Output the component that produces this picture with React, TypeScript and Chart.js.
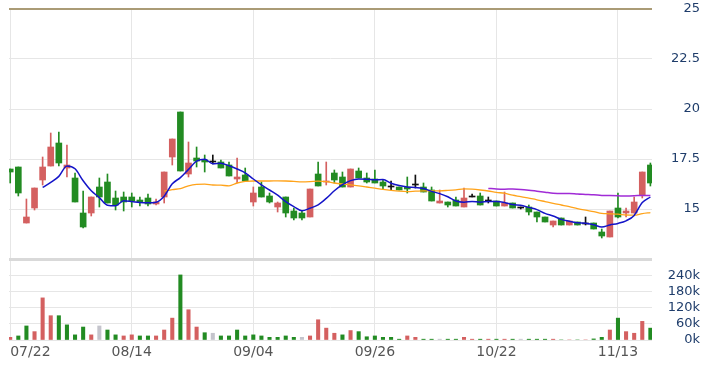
import React, { useEffect, useRef } from 'react';
import { Chart, registerables } from 'chart.js';

Chart.register(...registerables);

// ---- data ----
const DATE_LABELS = ['07/22', '08/14', '09/04', '09/26', '10/22', '11/13'];
const DATE_INDEX = [0, 15, 30, 45, 60, 75];

const OPEN = [
  17.0, 17.1, 14.3, 15.05, 16.45, 17.15, 18.3, 17.05, 16.55, 14.8,
  14.8, 16.1, 16.35, 15.55, 15.6, 15.6, 15.45, 15.55, 15.25, 15.6,
  17.6, 19.85, 16.75, 17.55, 17.45, 17.35, 17.35, 17.2, 16.5, 16.7,
  15.35, 16.1, 15.65, 15.1, 15.6, 14.9, 14.8, 14.6, 16.75, 16.35,
  16.8, 16.6, 16.1, 16.9, 16.55, 16.5, 16.35, 16.1, 16.1, 16.1,
  16.2, 16.1, 15.95, 15.3, 15.35, 15.45, 15.1, 15.6, 15.65, 15.4,
  15.4, 15.15, 15.3, 15.05, 15.1, 14.85, 14.6, 14.2, 14.55, 14.2,
  14.35, 14.25, 14.3, 13.85, 13.6, 15.05, 14.8, 14.8, 15.7, 17.2,
];
const HIGH = [
  17.0, 17.1, 15.5, 16.05, 17.6, 18.8, 18.85, 18.2, 16.8, 15.9,
  15.6, 16.55, 16.75, 15.9, 15.85, 15.8, 15.6, 15.75, 15.5, 16.85,
  18.5, 19.85, 18.35, 18.1, 17.7, 17.7, 17.45, 17.35, 17.55, 17.05,
  16.1, 16.35, 15.8, 15.35, 15.6, 15.05, 14.9, 16.0, 17.35, 17.35,
  16.95, 16.85, 17.0, 17.05, 16.8, 16.95, 16.45, 16.4, 16.1, 16.6,
  16.7, 16.3, 16.1, 15.95, 15.35, 15.6, 16.05, 15.75, 15.8, 15.6,
  15.4, 15.85, 15.3, 15.1, 15.2, 14.85, 14.6, 14.4, 14.55, 14.4,
  14.35, 14.6, 14.3, 14.0, 14.9, 15.8, 15.05, 15.6, 16.85, 17.3,
];
const LOW = [
  16.3, 15.65, 14.3, 14.95, 16.2, 17.15, 17.15, 16.6, 15.35, 14.05,
  14.65, 15.1, 15.3, 14.95, 14.9, 15.1, 15.15, 15.15, 15.2, 15.3,
  17.2, 16.9, 16.6, 17.1, 16.85, 17.25, 17.05, 16.65, 16.3, 16.4,
  15.15, 15.6, 15.3, 14.85, 14.6, 14.45, 14.45, 14.6, 16.15, 16.2,
  16.3, 16.1, 16.1, 16.55, 16.3, 16.3, 16.0, 15.95, 15.95, 15.8,
  16.05, 15.85, 15.4, 15.3, 15.1, 15.15, 15.1, 15.6, 15.2, 15.3,
  15.15, 15.15, 15.05, 15.0, 14.7, 14.35, 14.35, 14.1, 14.2, 14.2,
  14.2, 14.2, 14.0, 13.55, 13.6, 14.55, 14.6, 14.8, 15.55, 16.15,
];
const CLOSE = [
  16.85, 15.8, 14.6, 16.05, 17.1, 18.1, 17.3, 17.2, 15.35, 14.1,
  15.6, 15.6, 15.3, 15.2, 15.35, 15.4, 15.35, 15.25, 15.35, 16.85,
  18.5, 16.9, 17.3, 17.4, 17.35, 17.35, 17.05, 16.65, 16.6, 16.4,
  15.8, 15.6, 15.35, 15.3, 14.8, 14.55, 14.55, 16.0, 16.15, 16.4,
  16.45, 16.1, 17.0, 16.55, 16.35, 16.3, 16.15, 16.1, 15.95, 16.0,
  16.2, 15.85, 15.4, 15.4, 15.2, 15.15, 15.55, 15.6, 15.2, 15.4,
  15.15, 15.3, 15.05, 15.05, 14.85, 14.6, 14.35, 14.4, 14.2, 14.4,
  14.2, 14.25, 14.0, 13.65, 14.9, 14.6, 14.9, 15.35, 16.85, 16.3,
];
const PREV_CLOSE = 16.6;

const VOLUME = [
  10000, 15000, 52000, 31000, 156000, 90000, 90000, 56000, 19000, 48000,
  19000, 52000, 37000, 19000, 15000, 19000, 15000, 15000, 15000, 37000,
  81000, 241000, 112000, 48000, 27000, 25000, 15000, 15000, 37000, 15000,
  19000, 15000, 10000, 10000, 15000, 10000, 10000, 15000, 75000, 44000,
  25000, 19000, 35000, 31000, 12000, 15000, 10000, 10000, 3000, 15000,
  10000, 3000, 3000, 3000, 3000, 3000, 10000, 3000, 3000, 3000,
  3000, 3000, 3000, 3000, 3000, 3000, 3000, 3000, 0, 0,
  0, 0, 4000, 10000, 37000, 81000, 31000, 25000, 69000, 44000,
];

const MA5 = [
  null, null, null, null, 16.08, 16.33, 16.63, 17.15, 17.01, 16.41,
  15.91, 15.57, 15.19, 15.16, 15.41, 15.37, 15.32, 15.31, 15.34, 15.64,
  16.26, 16.57, 16.98, 17.39, 17.49, 17.26, 17.29, 17.16, 17.0, 16.81,
  16.5, 16.21, 15.95, 15.69, 15.37, 15.12, 14.91, 15.04, 15.21, 15.53,
  15.91, 16.22, 16.42, 16.5, 16.49, 16.46, 16.47, 16.29, 16.17, 16.1,
  16.08, 16.02, 15.88, 15.77, 15.61, 15.4, 15.34, 15.38, 15.34, 15.38,
  15.38, 15.33, 15.22, 15.19, 15.08, 14.97, 14.78, 14.65, 14.48, 14.39,
  14.31, 14.29, 14.21, 14.1, 14.2, 14.28, 14.41, 14.68, 15.32, 15.6,
];
const MA20 = [
  null, null, null, null, null, null, null, null, null, null,
  null, null, null, null, null, null, null, null, null, 15.89,
  15.97, 16.02, 16.16, 16.23, 16.24, 16.2, 16.19, 16.16, 16.3, 16.38,
  16.4, 16.4, 16.4, 16.41, 16.4, 16.38, 16.36, 16.37, 16.39, 16.37,
  16.3, 16.25, 16.21, 16.16, 16.1, 16.04, 15.98, 15.93, 15.89, 15.87,
  15.89, 15.91, 15.91, 15.91, 15.93, 15.96, 16.01, 15.99, 15.95, 15.9,
  15.83, 15.79, 15.69, 15.62, 15.54, 15.46, 15.37, 15.28, 15.2, 15.12,
  15.02, 14.94, 14.87, 14.78, 14.76, 14.74, 14.7, 14.69, 14.77, 14.82,
];
const MA60 = [
  null, null, null, null, null, null, null, null, null, null,
  null, null, null, null, null, null, null, null, null, null,
  null, null, null, null, null, null, null, null, null, null,
  null, null, null, null, null, null, null, null, null, null,
  null, null, null, null, null, null, null, null, null, null,
  null, null, null, null, null, null, null, null, null, 16.03,
  16.0, 15.99, 16.0, 15.98, 15.94, 15.89, 15.84, 15.79, 15.77, 15.78,
  15.75, 15.73, 15.71, 15.68, 15.67, 15.66, 15.65, 15.66, 15.68, 15.67,
];

const PRICE_TICKS = [12.5, 15, 17.5, 20, 22.5, 25];
const VOLUME_TICKS = [0, 60000, 120000, 180000, 240000, 300000];

// ---- styles ----
const RED = '#d46060';
const GREEN = '#228b22';
const DOJI = '#111111';
const FLAT_VOL = '#c4c4cc';
const GRID = '#e6e6e6';
const SEPARATOR = '#d9d9d9';
const TOP_LINE = '#aa9b76';
const Y_LABEL = '#1f3d6b';

const candleColor = (i: number) =>
  CLOSE[i] > OPEN[i] ? RED : CLOSE[i] < OPEN[i] ? GREEN : DOJI;
const volumeColor = (i: number) => {
  const prev = i === 0 ? PREV_CLOSE : CLOSE[i - 1];
  return CLOSE[i] > prev ? RED : CLOSE[i] < prev ? GREEN : FLAT_VOL;
};

const toPoints = (arr: (number | null)[]) =>
  arr
    .map((v, i) => (v == null ? null : { x: i, y: v }))
    .filter((p) => p !== null) as { x: number; y: number }[];

export default function App() {
  const ref = useRef<HTMLCanvasElement>(null);

  useEffect(() => {
    const idx = CLOSE.map((_, i) => i);
    const lineBase = {
      type: 'line' as const,
      yAxisID: 'y',
      pointRadius: 0,
      borderWidth: 1.5,
      cubicInterpolationMode: 'monotone' as const,
      order: 0,
    };

    const chart = new Chart(ref.current as HTMLCanvasElement, {
      type: 'bar',
      data: {
        datasets: [
          { ...lineBase, label: 'MA5', data: toPoints(MA5), borderColor: '#1414c8' },
          { ...lineBase, label: 'MA20', data: toPoints(MA20), borderColor: '#ffa31a', borderWidth: 1.3 },
          { ...lineBase, label: 'MA60', data: toPoints(MA60), borderColor: '#a02bd6' },
          {
            type: 'bar',
            label: 'body',
            yAxisID: 'y',
            data: idx.map((i) => ({ x: i, y: [Math.min(OPEN[i], CLOSE[i]), Math.max(OPEN[i], CLOSE[i])] })) as any,
            backgroundColor: idx.map(candleColor),
            barThickness: 6,
            minBarLength: 1,
            grouped: false,
            order: 1,
          },
          {
            type: 'bar',
            label: 'wick',
            yAxisID: 'y',
            data: idx.map((i) => ({ x: i, y: [LOW[i], HIGH[i]] })) as any,
            backgroundColor: idx.map(candleColor),
            barThickness: 1,
            grouped: false,
            order: 2,
          },
          {
            type: 'bar',
            label: 'volume',
            yAxisID: 'vol',
            data: idx.map((i) => ({ x: i, y: VOLUME[i] })) as any,
            backgroundColor: idx.map(volumeColor),
            barThickness: 3.4,
            grouped: false,
            order: 3,
          },
        ] as any,
      },
      options: {
        responsive: false,
        animation: false,
        devicePixelRatio: 1,
        layout: { padding: { left: 9, top: 9, right: 9, bottom: 0 } },
        plugins: { legend: { display: false }, tooltip: { enabled: false } },
        font: { family: 'DejaVu Sans' } as any,
        scales: {
          x: {
            type: 'linear',
            min: -0.15,
            max: 79.2,
            offset: false,
            border: { display: false },
            grid: {
              offset: false,
              drawTicks: false,
              color: (ctx: any) => (ctx.index < DATE_INDEX.length ? GRID : 'rgba(0,0,0,0)'),
            },
            afterBuildTicks: (scale: any) => {
              scale.ticks = [...DATE_INDEX.map((v) => ({ value: v })), { value: 79.2 }];
            },
            afterFit: (scale: any) => {
              scale.height = 25;
            },
            ticks: {
              autoSkip: false,
              maxRotation: 0,
              align: 'inner',
              padding: 4,
              color: '#555555',
              font: { family: 'DejaVu Sans', size: 14 },
              callback: (_v: any, i: number) => (i < DATE_LABELS.length ? DATE_LABELS[i] : ''),
            },
          },
          y: {
            type: 'linear',
            position: 'right',
            stack: 'panels',
            stackWeight: 250,
            min: 12.5,
            max: 25,
            border: { display: false },
            grid: {
              drawTicks: false,
              color: (ctx: any) =>
                ctx.tick.value === 25 ? TOP_LINE : ctx.tick.value === 12.5 ? SEPARATOR : GRID,
              lineWidth: (ctx: any) =>
                ctx.tick.value === 25 ? 2 : ctx.tick.value === 12.5 ? 3 : 1,
            },
            afterBuildTicks: (scale: any) => {
              scale.ticks = PRICE_TICKS.map((v) => ({ value: v }));
            },
            afterFit: (scale: any) => {
              scale.width = 48;
            },
            ticks: {
              autoSkip: false,
              crossAlign: 'far',
              padding: 0,
              color: Y_LABEL,
              font: { family: 'DejaVu Sans', size: 13 },
              callback: (v: any) => (v === 12.5 ? '' : String(v)),
            },
          },
          vol: {
            type: 'linear',
            position: 'right',
            stack: 'panels',
            stackWeight: 81,
            min: 0,
            max: 300000,
            offset: false,
            border: { display: false },
            grid: {
              drawTicks: false,
              color: (ctx: any) => (ctx.tick.value === 300000 ? SEPARATOR : GRID),
              lineWidth: (ctx: any) => (ctx.tick.value === 300000 ? 3 : 1),
            },
            afterBuildTicks: (scale: any) => {
              scale.ticks = VOLUME_TICKS.map((v) => ({ value: v }));
            },
            afterFit: (scale: any) => {
              scale.width = 48;
            },
            ticks: {
              autoSkip: false,
              crossAlign: 'far',
              padding: 0,
              color: Y_LABEL,
              font: { family: 'DejaVu Sans', size: 13 },
              callback: (v: any) => (v === 300000 ? '' : v / 1000 + 'k'),
            },
          },
        } as any,
      },
    });
    return () => chart.destroy();
  }, []);

  return (
    <div style={{ position: 'fixed', left: 0, top: 0, width: 709, height: 365, background: '#ffffff' }}>
      <canvas ref={ref} width={709} height={365} style={{ display: 'block', width: 709, height: 365 }} />
    </div>
  );
}
